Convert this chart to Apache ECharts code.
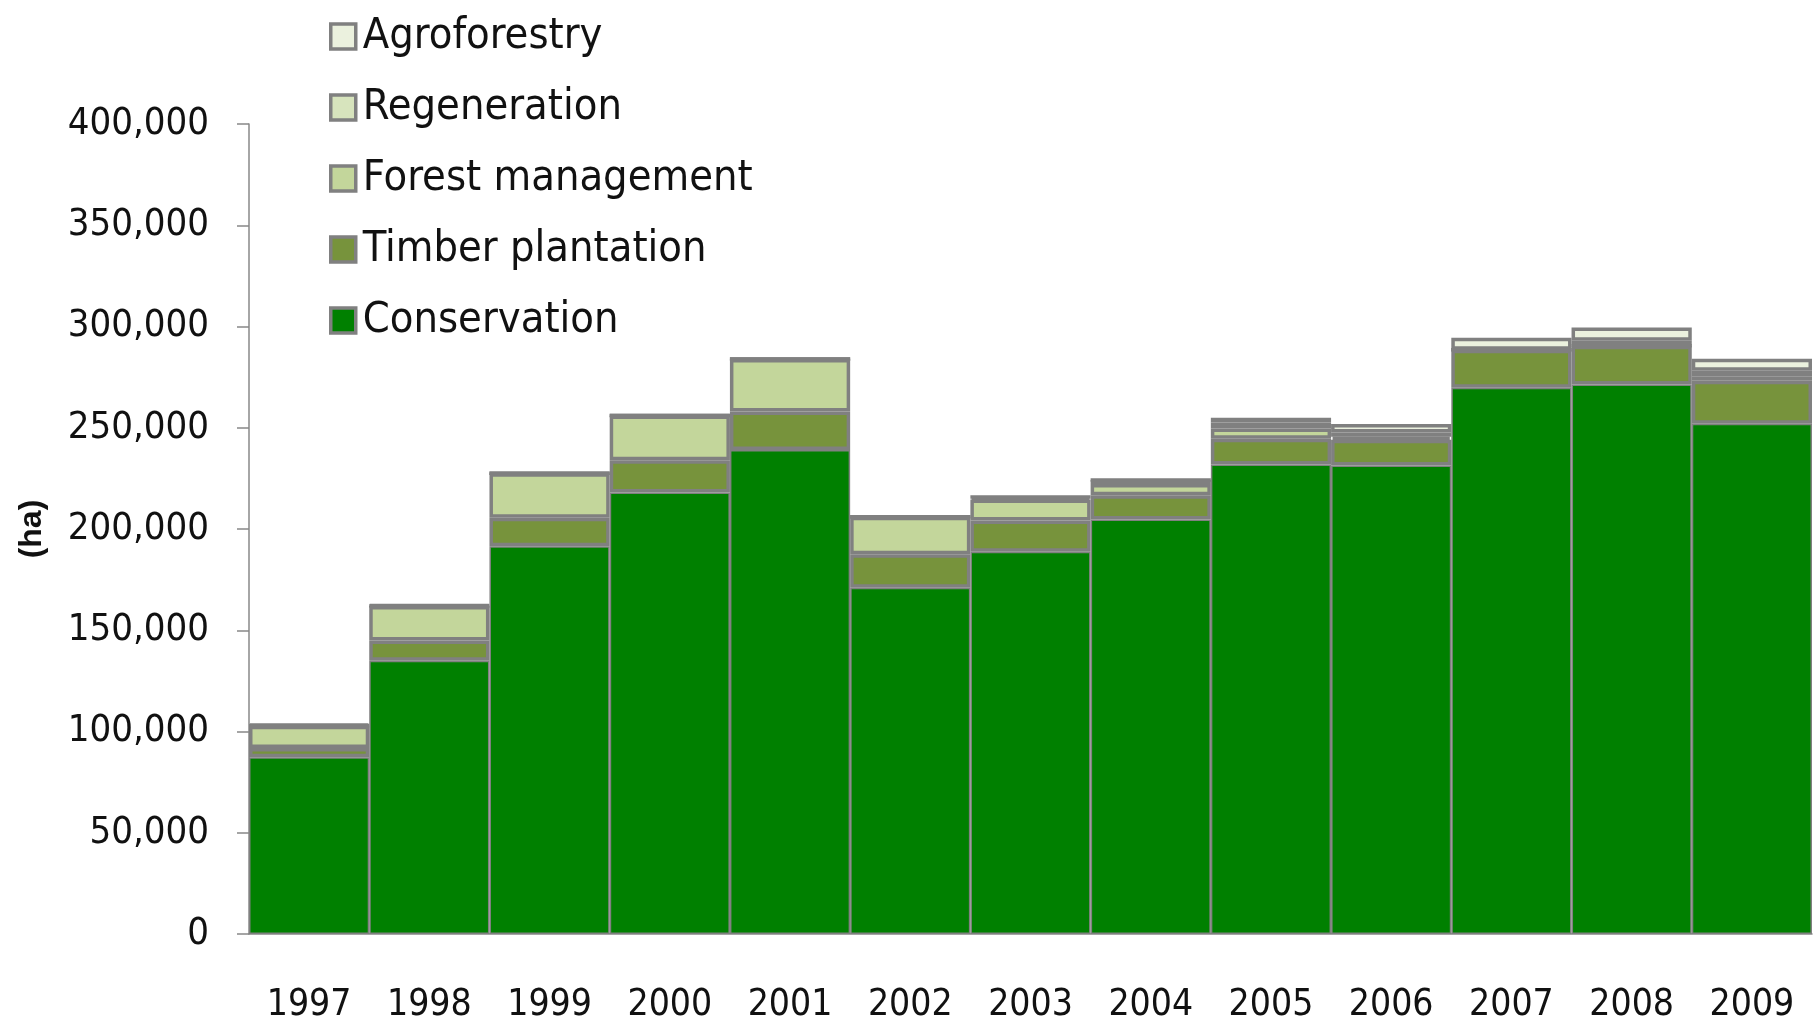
<!DOCTYPE html>
<html><head><meta charset="utf-8">
<script src="https://cdn.jsdelivr.net/npm/echarts@6/dist/echarts.min.js"></script>
<style>html,body{margin:0;padding:0;background:#fff}#c{width:1819px;height:1024px}</style>
</head><body><div id="c"></div>
<script>
const years = ['1997','1998','1999','2000','2001','2002','2003','2004','2005','2006','2007','2008','2009'];
const conservation = [87300,135000,191500,218000,239000,171000,188800,204700,231800,231300,269800,271300,252000];
const timberPlantation = [4500,10000,14000,16000,19000,16500,15400,12000,12800,12800,18700,19200,21200];
const forestManagement = [11000,17000,22000,22000,26000,18500,10400,5500,5000,1500,0,0,2000];
const regeneration = [0,0,0,0,0,0,1200,2000,3000,2000,0,2500,3000];
const agroforestry = [700,500,0,0,0,0,0,0,2400,4200,6000,6500,5900];
const yTicks = [0,50000,100000,150000,200000,250000,300000,350000,400000];

const FONT = '"Liberation Sans Narrow","DejaVu Sans Condensed","Liberation Sans",sans-serif';
function mk(name, data, color, bw) {
  return {name, type:'bar', stack:'t', data, barCategoryGap:'0%',
    itemStyle:{color, borderColor:'#808080', borderWidth:bw}};
}
const chart = echarts.init(document.getElementById('c'));
chart.setOption({
  animation:false,
  textStyle:{fontFamily:FONT},
  grid:{left:249, right:7, top:124, bottom:89},
  legend:{orient:'vertical', left:324, top:10, icon:'rect', itemWidth:25, itemHeight:25, itemGap:28,
    itemStyle:{borderColor:'#808080', borderWidth:3.5},
    textStyle:{fontFamily:FONT, fontSize:43, color:'#111', padding:[0,0,0,2]},
    data:['Agroforestry','Regeneration','Forest management','Timber plantation','Conservation']},
  xAxis:{type:'category', data:years,
    axisLine:{lineStyle:{color:'#888', width:1.5}},
    axisTick:{length:12, lineStyle:{color:'#888', width:1.5}},
    axisLabel:{fontSize:37, color:'#111', margin:53, fontFamily:FONT}},
  yAxis:{type:'value', min:yTicks[0], max:yTicks[yTicks.length-1], interval:50000,
    name:'(ha)', nameLocation:'middle', nameGap:201, nameRotate:90,
    nameTextStyle:{fontSize:32, fontWeight:'bold', color:'#111', fontFamily:'"Liberation Sans",sans-serif'},
    splitLine:{show:false},
    axisLine:{show:true, lineStyle:{color:'#888', width:1.5}},
    axisTick:{show:true, length:12, lineStyle:{color:'#888', width:1.5}},
    axisLabel:{fontSize:38, color:'#111', margin:40, fontFamily:FONT,
      formatter:v=>v.toLocaleString('en-US')}},
  series:[
    mk('Conservation', conservation, '#008000', 1.5),
    mk('Timber plantation', timberPlantation, '#77933c', 3.5),
    mk('Forest management', forestManagement, '#c3d69b', 3.5),
    mk('Regeneration', regeneration, '#d7e4bd', 3.5),
    mk('Agroforestry', agroforestry, '#ebf1de', 3.5)
  ]
});
</script></body></html>
